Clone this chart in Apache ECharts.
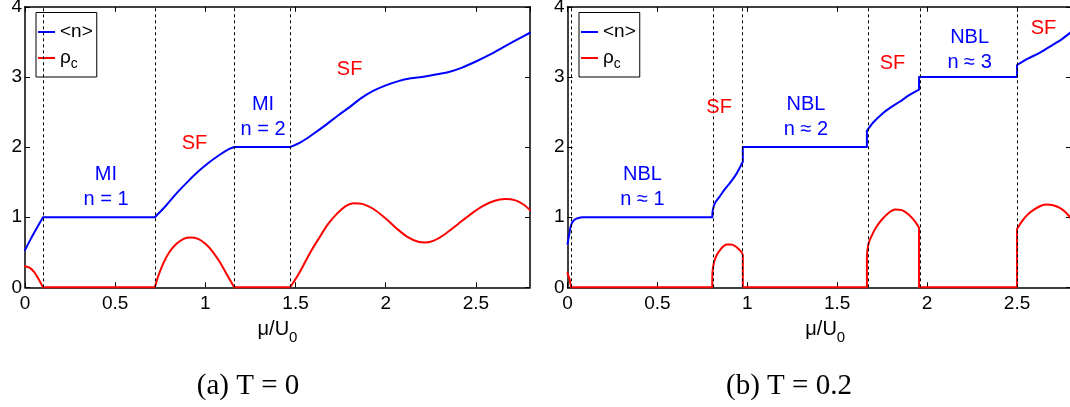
<!DOCTYPE html>
<html>
<head>
<meta charset="utf-8">
<script src="https://cdn.jsdelivr.net/npm/echarts@6/dist/echarts.min.js"></script>
<style>
html, body { margin: 0; padding: 0; background: #fff; }
#main { width: 1070px; height: 407px; }
</style>
</head>
<body>
<div id="main"></div>
<script>
// axis ranges, same for both panels
var xRange = [0, 2.8], xStep = 0.5;
var yRange = [0, 4], yStep = 1;
var captions = ['(a) T = 0', '(b) T = 0.2'];
var seriesNames = ['<n>', 'ρc'];

// phase boundaries (dotted verticals)
var boundsA = [0.1, 0.72, 1.16, 1.47];
var boundsB = [0.02, 0.805, 0.975, 1.665, 1.955, 2.5];

// <n> at T = 0, each inner list is one smooth run
var nA = [
    [[0, 0.53], [0.03, 0.68], [0.06, 0.82], [0.1, 1.0]],
    [[0.1, 1], [0.72, 1]],
    [[0.72, 1.0], [0.78, 1.16], [0.84, 1.34], [0.9, 1.5], [0.96, 1.65], [1.02, 1.78], [1.08, 1.89], [1.13, 1.97], [1.16, 2.0]],
    [[1.16, 2], [1.47, 2]],
    [[1.47, 2.0], [1.53, 2.07], [1.6, 2.19], [1.67, 2.32], [1.73, 2.44], [1.8, 2.57], [1.86, 2.69], [1.93, 2.8], [2.0, 2.88], [2.07, 2.94],
     [2.14, 2.98], [2.2, 3.0], [2.27, 3.03], [2.35, 3.07], [2.42, 3.13], [2.5, 3.22], [2.58, 3.32], [2.65, 3.42], [2.72, 3.52], [2.8, 3.63]]
];
// rho_c at T = 0
var rhoA = [
    [[0, 0.3], [0.025, 0.28], [0.05, 0.22], [0.075, 0.12], [0.1, 0]],
    [[0.1, 0], [0.72, 0]],
    [[0.72, 0], [0.74, 0.17], [0.77, 0.36], [0.8, 0.5], [0.84, 0.62], [0.88, 0.69], [0.915, 0.71], [0.96, 0.69], [1.0, 0.62], [1.04, 0.51],
     [1.08, 0.36], [1.12, 0.18], [1.16, 0]],
    [[1.16, 0], [1.47, 0]],
    [[1.47, 0], [1.52, 0.2], [1.58, 0.49], [1.63, 0.7], [1.68, 0.9], [1.73, 1.05], [1.78, 1.16], [1.82, 1.2], [1.87, 1.19], [1.93, 1.12],
     [2.0, 0.98], [2.06, 0.84], [2.12, 0.72], [2.18, 0.65], [2.22, 0.64], [2.27, 0.67], [2.33, 0.76], [2.4, 0.9], [2.47, 1.04], [2.54, 1.16],
     [2.6, 1.23], [2.66, 1.26], [2.72, 1.24], [2.77, 1.17], [2.8, 1.1]]
];

// <n> at T = 0.2
var nB = [
    [[0, 0.62], [0.01, 0.76], [0.018, 0.87], [0.03, 0.94], [0.05, 0.98], [0.08, 1.0]],
    [[0.08, 1], [0.805, 1]],
    [[0.805, 1.0], [0.808, 1.1], [0.82, 1.2], [0.848, 1.3], [0.875, 1.4], [0.904, 1.49], [0.935, 1.6], [0.955, 1.69], [0.975, 1.79]],
    [[0.975, 1.79], [0.975, 2]],
    [[0.975, 2], [1.665, 2]],
    [[1.665, 2], [1.665, 2.23]],
    [[1.665, 2.23], [1.7, 2.35], [1.757, 2.49], [1.8, 2.57], [1.85, 2.65], [1.9, 2.74], [1.955, 2.82]],
    [[1.955, 2.82], [1.955, 3]],
    [[1.955, 3], [2.5, 3]],
    [[2.5, 3], [2.5, 3.17]],
    [[2.5, 3.17], [2.56, 3.26], [2.63, 3.35], [2.7, 3.46], [2.75, 3.54], [2.8, 3.64]]
];
// rho_c at T = 0.2
var rhoB = [
    [[0, 0.2], [0.01, 0.13], [0.02, 0]],
    [[0.02, 0], [0.805, 0]],
    [[0.805, 0], [0.806, 0.2], [0.815, 0.36], [0.83, 0.46], [0.848, 0.53], [0.865, 0.58], [0.885, 0.61], [0.91, 0.61], [0.93, 0.59],
     [0.95, 0.55], [0.968, 0.5], [0.975, 0.46]],
    [[0.975, 0.46], [0.975, 0]],
    [[0.975, 0], [1.665, 0]],
    [[1.665, 0], [1.665, 0.45]],
    [[1.665, 0.45], [1.675, 0.63], [1.7, 0.78], [1.72, 0.87], [1.75, 0.97], [1.79, 1.07], [1.822, 1.11], [1.86, 1.1], [1.9, 1.03],
     [1.935, 0.93], [1.955, 0.85]],
    [[1.955, 0.85], [1.955, 0]],
    [[1.955, 0], [2.5, 0]],
    [[2.5, 0], [2.5, 0.83]],
    [[2.5, 0.83], [2.53, 0.95], [2.56, 1.04], [2.59, 1.1], [2.63, 1.16], [2.665, 1.18], [2.7, 1.17], [2.74, 1.13], [2.77, 1.07], [2.8, 0.98]]
];

// phase labels [text, x, y] in data units
var blueTextA = [['MI\nn = 1', 0.449, 1.43], ['MI\nn = 2', 1.32, 2.43]];
var redTextA = [['SF', 0.94, 2.05], ['SF', 1.80, 3.11]];
var blueTextB = [['NBL\nn ≈ 1', 0.417, 1.43], ['NBL\nn ≈ 2', 1.326, 2.43], ['NBL\nn ≈ 3', 2.236, 3.39]];
var redTextB = [['SF', 0.843, 2.56], ['SF', 1.807, 3.19], ['SF', 2.647, 3.69]];

var FONT = 'Liberation Sans, Arial, sans-serif';
var SERIF = '29px "Liberation Serif", "Times New Roman", serif';
var BLUE = '#0000ff', RED = '#ff0000';

function joinRuns(runs) {
    var out = [];
    runs.forEach(function (r, i) {
        if (i) out.push(['-', '-']);
        out = out.concat(r);
    });
    return out;
}

function xAx(g, withLabels, nameShift) {
    return {
        type: 'value', gridIndex: g, min: xRange[0], max: xRange[1], interval: xStep,
        position: withLabels ? 'bottom' : 'top',
        axisLine: { show: true, onZero: false, lineStyle: { color: '#000', width: 1.5 } },
        axisTick: { show: true, inside: true, length: 5, lineStyle: { color: '#000', width: 1 } },
        axisLabel: { show: withLabels, showMaxLabel: false, color: '#000', fontSize: 19, fontFamily: FONT, margin: 7 },
        splitLine: { show: false },
        name: withLabels ? 'μ/U{s|0}' : '', nameLocation: 'middle', nameGap: 27,
        nameTextStyle: {
            color: '#000', fontSize: 20, fontFamily: FONT, padding: [0, 0, 0, nameShift || 0],
            rich: { s: { fontSize: 15, fontFamily: FONT, color: '#000', padding: [16, 0, 0, 0] } }
        }
    };
}

function yAx(g, withLabels) {
    return {
        type: 'value', gridIndex: g, min: yRange[0], max: yRange[1], interval: yStep,
        position: withLabels ? 'left' : 'right',
        axisLine: { show: true, onZero: false, lineStyle: { color: '#000', width: 1.5 } },
        axisTick: { show: true, inside: true, length: 5, lineStyle: { color: '#000', width: 1 } },
        axisLabel: { show: withLabels, color: '#000', fontSize: 19, fontFamily: FONT, margin: 3 },
        splitLine: { show: false }
    };
}

function lineSeries(name, color, runs, axIdx, bounds) {
    var s = {
        type: 'line', name: name, xAxisIndex: axIdx, yAxisIndex: axIdx,
        data: joinRuns(runs), showSymbol: false, symbol: 'none', smooth: 0.3, clip: false,
        connectNulls: false, animation: false,
        lineStyle: { color: color, width: 2, cap: 'round', join: 'round' },
        itemStyle: { color: color },
        emphasis: { disabled: true }, z: 3
    };
    if (bounds) {
        s.markLine = {
            silent: true, symbol: ['none', 'none'], animation: false,
            label: { show: false },
            lineStyle: { color: '#000', type: [3, 3], width: 1 },
            emphasis: { disabled: true },
            data: bounds.map(function (x) { return { xAxis: x }; })
        };
    }
    return s;
}

function textSeries(items, color, axIdx) {
    return {
        type: 'scatter', xAxisIndex: axIdx, yAxisIndex: axIdx, symbolSize: 1, silent: true,
        itemStyle: { color: 'rgba(0,0,0,0)' }, animation: false, z: 5,
        label: {
            show: true, position: 'inside', color: color, fontSize: 20, lineHeight: 25,
            fontFamily: FONT, textBorderWidth: 0, textBorderColor: 'transparent', opacity: 1,
            formatter: function (p) { return p.name; }
        },
        emphasis: { disabled: true },
        data: items.map(function (t) { return { name: t[0], value: [t[1], t[2]] }; })
    };
}

function legendAt(left) {
    return {
        left: left, top: 12.5, orient: 'vertical', selectedMode: false,
        data: seriesNames, icon: 'rect', itemWidth: 17, itemHeight: 2, itemGap: 7,
        padding: [10, 4, 6, 2], borderColor: '#000', borderWidth: 1, backgroundColor: '#fff',
        textStyle: {
            color: '#000', fontSize: 19, fontFamily: FONT,
            rich: {
                r: { fontSize: 19, fontFamily: FONT, color: '#000' },
                c: { fontSize: 14, fontFamily: FONT, color: '#000', padding: [12, 0, 0, 0] }
            }
        },
        formatter: function (name) { return name === 'ρc' ? '{r|ρ}{c|c}' : name; }
    };
}

var chart = echarts.init(document.getElementById('main'));
chart.setOption({
    animation: false,
    backgroundColor: '#fff',
    grid: [
        { left: 25, top: 6.8, width: 505, height: 280.5, containLabel: false, outerBoundsMode: 'none' },
        { left: 567.5, top: 6.8, width: 503.5, height: 280.5, containLabel: false, outerBoundsMode: 'none' }
    ],
    xAxis: [xAx(0, true), xAx(1, true, 12), xAx(0, false), xAx(1, false)],
    yAxis: [yAx(0, true), yAx(1, true), yAx(0, false), yAx(1, false)],
    legend: [legendAt(36), legendAt(579)],
    series: [
        lineSeries(seriesNames[0], BLUE, nA, 0, boundsA),
        lineSeries(seriesNames[1], RED, rhoA, 0),
        lineSeries(seriesNames[0], BLUE, nB, 1, boundsB),
        lineSeries(seriesNames[1], RED, rhoB, 1),
        textSeries(blueTextA, BLUE, 0),
        textSeries(redTextA, RED, 0),
        textSeries(blueTextB, BLUE, 1),
        textSeries(redTextB, RED, 1)
    ],
    graphic: [
        { type: 'text', x: 248, y: 386, style: { text: captions[0], font: SERIF, fill: '#000', align: 'center', verticalAlign: 'middle' } },
        { type: 'text', x: 789, y: 386, style: { text: captions[1], font: SERIF, fill: '#000', align: 'center', verticalAlign: 'middle' } }
    ]
});
</script>
</body>
</html>
